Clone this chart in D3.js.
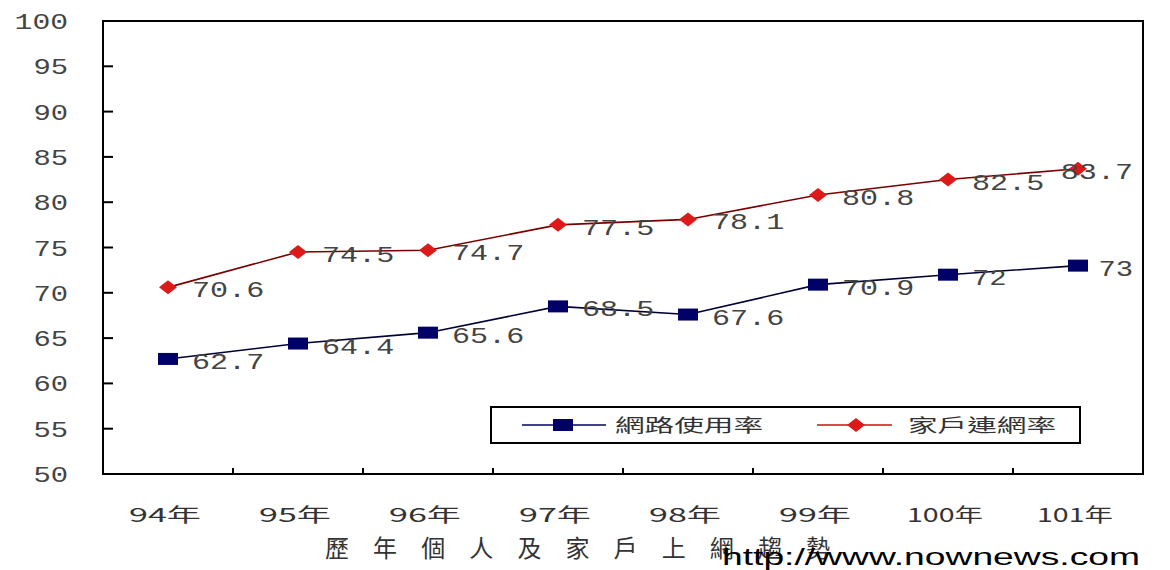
<!DOCTYPE html>
<html>
<head>
<meta charset="utf-8">
<script src="https://cdn.jsdelivr.net/npm/d3@7"></script>
<style>
    html, body { margin: 0; padding: 0; background: #fff; }
    svg { display: block; }
    .num { font-family: "Liberation Mono", monospace; font-size: 22px; fill: #444; }
    .cjk { font-family: "Noto Sans CJK TC", sans-serif; fill: #333; }
</style>
</head>
<body>
<div id="chart"></div>
<script>
const years = ['94年', '95年', '96年', '97年', '98年', '99年', '100年', '101年']
const internetUse = [62.7, 64.4, 65.6, 68.5, 67.6, 70.9, 72, 73]
const householdNet = [70.6, 74.5, 74.7, 77.5, 78.1, 80.8, 82.5, 83.7]
const yTicks = [50, 55, 60, 65, 70, 75, 80, 85, 90, 95, 100]
const seriesNames = ['網路使用率', '家戶連網率']
const title = '歷年個人及家戶上網趨勢'
const watermark = 'http://www.nownews.com'

document.addEventListener('DOMContentLoaded', () => {
    draw()
});

function draw() {
    const W = 1170
    const H = 570
    const left = 103, right = 1143, top = 21, bottom = 474
    const pitch = 18.8 // horizontal space per digit in the stretched labels

    const svg = d3.select('#chart')
        .append('svg')
        .attr('width', W)
        .attr('height', H)
        .attr('viewBox', [0, 0, W, H])

    const x = d3.scaleBand().domain(years).range([left, right]).padding(0)
    const y = d3.scaleLinear().domain([50, 100]).range([bottom, top])
    const cx = d => x(d) + x.bandwidth() / 2

    // y tick marks (inside) and labels
    svg.append('g')
        .selectAll('line')
        .data(yTicks)
        .enter()
        .append('line')
        .attr('x1', left).attr('x2', left + 10)
        .attr('y1', d => y(d)).attr('y2', d => y(d))
        .attr('stroke', '#000').attr('stroke-width', 2)

    svg.append('g')
        .selectAll('text')
        .data(yTicks)
        .enter()
        .append('text')
        .attr('class', 'num')
        .attr('x', d => 68 - (String(d).length * pitch - 3))
        .attr('y', d => y(d) + 8)
        .attr('textLength', d => String(d).length * pitch - 3)
        .attr('lengthAdjust', 'spacingAndGlyphs')
        .text(d => d)

    // x tick marks at band edges, pointing up
    svg.append('g')
        .selectAll('line')
        .data(years.slice(1))
        .enter()
        .append('line')
        .attr('x1', d => x(d)).attr('x2', d => x(d))
        .attr('y1', bottom).attr('y2', bottom - 6)
        .attr('stroke', '#000').attr('stroke-width', 2)

    svg.append('g')
        .selectAll('text')
        .data(years)
        .enter()
        .append('text')
        .attr('class', 'cjk')
        .attr('x', d => cx(d) - (d.length > 3 ? 38 : 36) - 3)
        .attr('y', 522)
        .attr('font-size', 19)
        .attr('textLength', d => d.length > 3 ? 76 : 72)
        .attr('lengthAdjust', 'spacingAndGlyphs')
        .text(d => d)

    // plot frame
    svg.append('rect')
        .attr('x', left).attr('y', top)
        .attr('width', right - left).attr('height', bottom - top)
        .attr('fill', 'none')
        .attr('stroke', '#000')
        .attr('stroke-width', 2)

    const series = [
        { name: seriesNames[0], values: internetUse, line: '#000033', fill: '#000066', shape: 'square' },
        { name: seriesNames[1], values: householdNet, line: '#7a0000', fill: '#dd1a1a', shape: 'diamond' }
    ]

    const lineGen = d3.line()
        .x((d, i) => cx(years[i]))
        .y(d => y(d))

    const marker = (sel, s) => {
        if (s.shape === 'square') {
            sel.append('rect')
                .attr('x', -10).attr('y', -6)
                .attr('width', 20).attr('height', 12)
                .attr('fill', s.fill)
        } else {
            sel.append('path')
                .attr('d', 'M-9,0 L0,-7 L9,0 L0,7 Z')
                .attr('fill', s.fill)
        }
    }

    for (const s of series) {
        const g = svg.append('g')
        g.append('path')
            .datum(s.values)
            .attr('d', lineGen)
            .attr('fill', 'none')
            .attr('stroke', s.line)
            .attr('stroke-width', 1.6)

        g.selectAll('g.pt')
            .data(s.values)
            .enter()
            .append('g')
            .attr('class', 'pt')
            .attr('transform', (d, i) => `translate(${cx(years[i])},${y(d)})`)
            .each(function () { marker(d3.select(this), s) })

        g.selectAll('text')
            .data(s.values)
            .enter()
            .append('text')
            .attr('class', 'num')
            .attr('x', (d, i) => {
                const len = String(d).length * pitch - 3
                return Math.min(cx(years[i]) + 24, right - 10 - len)
            })
            .attr('y', d => y(d) + 10)
            .attr('textLength', d => String(d).length * pitch - 3)
            .attr('lengthAdjust', 'spacingAndGlyphs')
            .text(d => d)
    }

    // Legend
    const legend = svg.append('g').attr('id', 'legend')
    legend.append('rect')
        .attr('x', 491).attr('y', 407)
        .attr('width', 589).attr('height', 36)
        .attr('fill', '#fff')
        .attr('stroke', '#000')
        .attr('stroke-width', 2)

    const legendItems = [
        { s: series[0], x1: 522, x2: 606, mx: 563, tx: 615 },
        { s: series[1], x1: 817, x2: 892, mx: 856, tx: 908 }
    ]
    for (const item of legendItems) {
        const g = legend.append('g')
        g.append('line')
            .attr('x1', item.x1).attr('x2', item.x2)
            .attr('y1', 425).attr('y2', 425)
            .attr('stroke', item.s.shape === 'square' ? '#000066' : '#cc1111')
            .attr('stroke-width', 1.6)
        g.append('g')
            .attr('transform', `translate(${item.mx},425)`)
            .call(sel => marker(sel, item.s))
        g.append('text')
            .attr('class', 'cjk')
            .attr('x', item.tx)
            .attr('y', 432)
            .attr('font-size', 18)
            .attr('textLength', 148)
            .attr('lengthAdjust', 'spacingAndGlyphs')
            .text(item.s.name)
    }

    // Title and watermark
    svg.append('text')
        .attr('class', 'cjk')
        .attr('x', 325)
        .attr('y', 557)
        .attr('font-size', 24)
        .attr('textLength', 505)
        .attr('lengthAdjust', 'spacing')
        .text(title)

    svg.append('text')
        .attr('x', 722)
        .attr('y', 565)
        .attr('font-family', '"Liberation Sans", Arial, sans-serif')
        .attr('font-size', 24)
        .attr('fill', '#000')
        .attr('textLength', 418)
        .attr('lengthAdjust', 'spacingAndGlyphs')
        .text(watermark)
}
</script>
</body>
</html>
